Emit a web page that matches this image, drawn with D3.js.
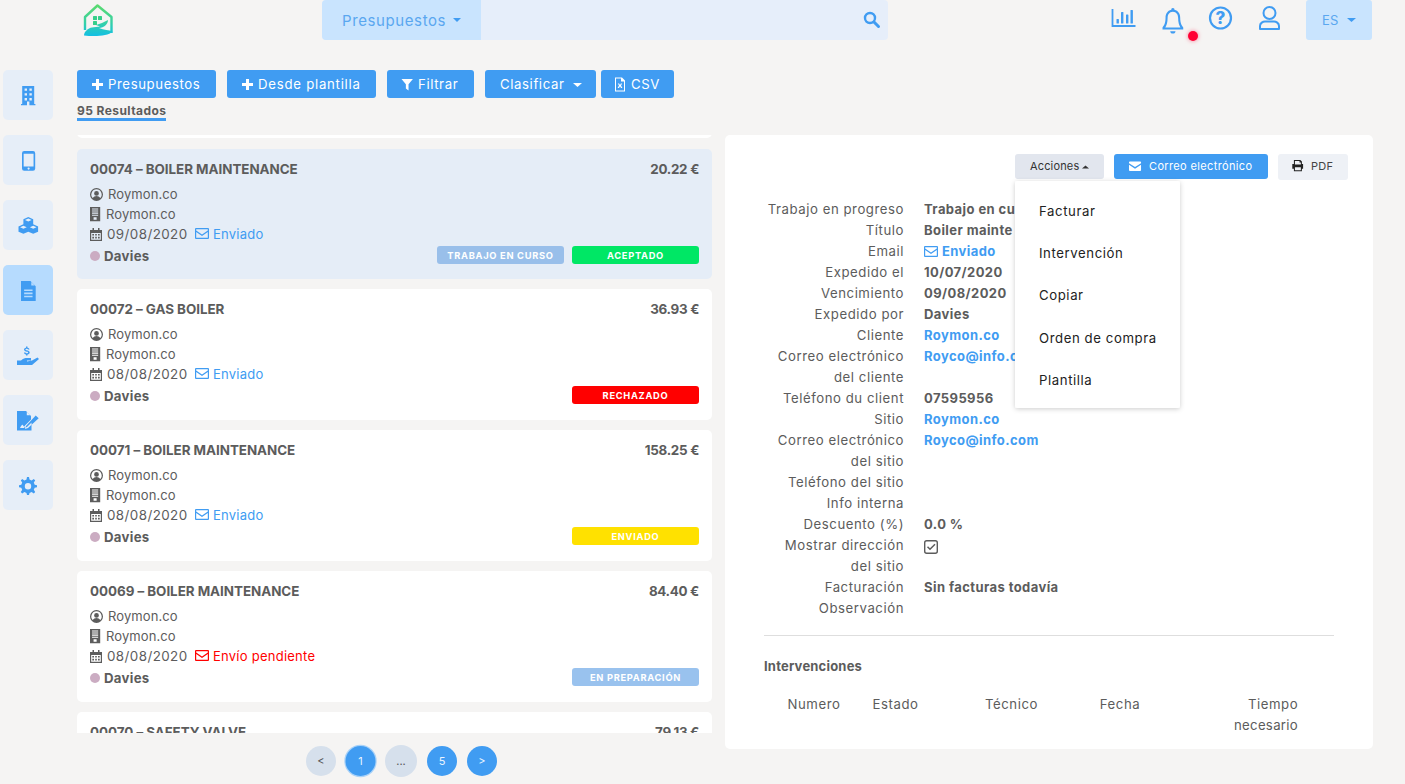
<!DOCTYPE html>
<html><head><meta charset="utf-8">
<script src="https://cdn.jsdelivr.net/npm/d3@7/dist/d3.min.js"></script>
<style>html,body{margin:0;padding:0;background:#f5f4f3;overflow:hidden}svg{display:block;font-family:Inter,"Open Sans",sans-serif}</style>
</head><body><svg id="c" width="1405" height="784"></svg>
<script>
const toolbarLabels=["Presupuestos","Desde plantilla","Filtrar","Clasificar","CSV"];
const toolbarX=[[77,216],[227,376],[387,474],[485,596],[601,674]];
const invoiceTitles=["00074 – BOILER MAINTENANCE","00072 – GAS BOILER","00071 – BOILER MAINTENANCE","00069 – BOILER MAINTENANCE","00070 – SAFETY VALVE"];
const invoiceAmounts=["20.22 €","36.93 €","158.25 €","84.40 €","79.13 €"];
const invoiceDates=["09/08/2020","08/08/2020","08/08/2020","08/08/2020"];
const invoiceMail=["Enviado","Enviado","Enviado","Envío pendiente"];
const invoiceBadges=[["TRABAJO EN CURSO","ACEPTADO"],["RECHAZADO"],["ENVIADO"],["EN PREPARACIÓN"]];
const badgeColors={"TRABAJO EN CURSO":"#99bfea","ACEPTADO":"#00e765","RECHAZADO":"#ff0000","ENVIADO":"#ffe100","EN PREPARACIÓN":"#99c2ee"};
const detailLabels=["Trabajo en progreso","Título","Email","Expedido el","Vencimiento","Expedido por","Cliente","Correo electrónico","del cliente","Teléfono du client","Sitio","Correo electrónico","del sitio","Teléfono del sitio","Info interna","Descuento (%)","Mostrar dirección","del sitio","Facturación","Observación"];
const detailValues=["Trabajo en cu","Boiler mainte","Enviado","10/07/2020","09/08/2020","Davies","Roymon.co","Royco@info.c","","07595956","Roymon.co","Royco@info.com","","","","0.0 %","","","Sin facturas todavía",""];
const detailBlue=[2,6,7,10,11];
const menuItems=["Facturar","Intervención","Copiar","Orden de compra","Plantilla"];
const menuY=[211,253,295,338,380];
const tableHeads=["Numero","Estado","Técnico","Fecha","Tiempo"];
const tableX=[814,895.5,1011.5,1120,1273];
const pageLabels=["<","1","...","5",">"];
const pageX=[321,360.5,401,442,482];
const sideY=[70,135,200,265,330,395,460];

const BLUE="#409cf2",INK="#5c5c5c";
const svg=d3.select("#c");
const defs=svg.append("defs");
defs.append("clipPath").attr("id","listClip").append("rect").attr("x",70).attr("y",135).attr("width",650).attr("height",598);
const grad=defs.append("linearGradient").attr("id","logoG").attr("gradientUnits","userSpaceOnUse").attr("x1",0).attr("y1",4).attr("x2",0).attr("y2",36);
grad.append("stop").attr("offset",0).attr("stop-color","#5ddb6a");
grad.append("stop").attr("offset",.6).attr("stop-color","#35d0a8");
grad.append("stop").attr("offset",1).attr("stop-color","#12bfe4");
const blur=defs.append("filter").attr("id","sh").attr("x","-10%").attr("y","-10%").attr("width","120%").attr("height","120%");
blur.append("feDropShadow").attr("dx",0).attr("dy",1).attr("stdDeviation",2.5).attr("flood-color","#000").attr("flood-opacity",.2);

function rect(p,x,y,w,h,f,r=3){return p.append("rect").attr("x",x).attr("y",y).attr("width",w).attr("height",h).attr("fill",f).attr("rx",r)}
function text(p,x,y,s,o={}){return p.append("text").attr("x",x).attr("y",y).text(s).attr("font-size",o.size||13.5).attr("font-weight",o.w||400).attr("fill",o.f||INK).attr("text-anchor",o.a||"start").attr("letter-spacing",o.ls==null?.3:o.ls)}
function icon(p,x,y,d,f,s=1){return p.append("path").attr("transform",`translate(${x},${y}) scale(${s})`).attr("d",d).attr("fill",f).attr("fill-rule","evenodd")}
const ICON={
 building:"M1 0H11V15H12V16H0V15H1ZM3 2V4H5V2ZM7 2V4H9V2ZM3 6V8H5V6ZM7 6V8H9V6ZM3 10V12H5V10ZM7 10V12H9V10ZM5 13V16H7V13Z",
 phone:"M2 0H10A2 2 0 0 1 12 2V16A2 2 0 0 1 10 18H2A2 2 0 0 1 0 16V2A2 2 0 0 1 2 0ZM1.5 2.5V14H10.5V2.5ZM6 15A1 1 0 1 0 6 17A1 1 0 1 0 6 15Z",
 doc:"M0 0H9L14 5V19H0ZM3 8V9.5H11V8ZM3 11V12.5H11V11ZM3 14V15.5H11V14ZM9.8 1V4.2H13Z",
 gear:"M8 0L10 0L10.5 2.5L12.6 3.4L14.8 2L16.2 3.4L14.8 5.6L15.7 7.7L18 8.2V10.2L15.7 10.7L14.8 12.8L16.2 15L14.8 16.4L12.6 15L10.5 15.9L10 18H8L7.5 15.9L5.4 15L3.2 16.4L1.8 15L3.2 12.8L2.3 10.7L0 10.2V8.2L2.3 7.7L3.2 5.6L1.8 3.4L3.2 2L5.4 3.4L7.5 2.5ZM9 6A3.2 3.2 0 1 0 9 12.4A3.2 3.2 0 1 0 9 6Z",
 envelope:"M1 0H13A1 1 0 0 1 14 1V2L7 6.5L0 2V1A1 1 0 0 1 1 0ZM0 3.8L7 8.3L14 3.8V10A1 1 0 0 1 13 11H1A1 1 0 0 1 0 10Z",
 envO:"M1 0H13A1 1 0 0 1 14 1V10A1 1 0 0 1 13 11H1A1 1 0 0 1 0 10V1A1 1 0 0 1 1 0ZM1.2 1.2V2.6L7 6.6L12.8 2.6V1.2ZM1.2 4V9.8H12.8V4L7 8Z",
 user:"M6.5 0A6.5 6.5 0 1 1 6.5 13A6.5 6.5 0 1 1 6.5 0ZM6.5 1.3A5.2 5.2 0 0 0 2.7 10A4.5 4.5 0 0 1 10.3 10A5.2 5.2 0 0 0 6.5 1.3ZM6.5 3A2.4 2.4 0 1 1 6.5 7.8A2.4 2.4 0 1 1 6.5 3Z",
 cal:"M0 2H2.5V0H4V2H8V0H9.5V2H12V13H0ZM1.2 5V11.8H10.8V5ZM2.3 6H4V7.6H2.3ZM5.2 6H6.8V7.6H5.2ZM8 6H9.7V7.6H8ZM2.3 8.8H4V10.4H2.3ZM5.2 8.8H6.8V10.4H5.2ZM8 8.8H9.7V10.4H8Z",
 bld2:"M0 0H10V14H0ZM2 1.5V2.5H8V1.5ZM2 3.5V4.5H8V3.5ZM2 5.5V6.5H8V5.5ZM2 7.5V8.5H8V7.5ZM3.5 10V12.5H6.5V10Z",
 plus:"M4 0H7V4H11V7H7V11H4V7H0V4H4Z",
 funnel:"M0 0H12L7.4 5.5V12L4.6 10V5.5Z",
 csv:"M1 0H8L11 3V14H1ZM2 1V13H10V4H7V1ZM3.8 6L5 8L3.6 10.5H5L6 8.8L7 10.5H8.4L7 8L8.2 6H6.9L6 7.4L5.1 6Z",
 bell:"M8.5 0A1.3 1.3 0 0 1 9.8 1.5C13 2.2 14.5 5 14.5 8C14.5 13 16 14.5 17 16V17.6H0V16C1 14.5 2.5 13 2.5 8C2.5 5 4 2.2 7.2 1.5A1.3 1.3 0 0 1 8.5 0ZM8.5 3C5.5 3 4.2 5.5 4.2 8C4.2 12 3.3 14.3 2.3 16H14.7C13.7 14.3 12.8 12 12.8 8C12.8 5.5 11.5 3 8.5 3ZM6.3 19H10.7C10.4 20.5 9.5 21 8.5 21S6.6 20.5 6.3 19Z",
 print:"M3 0H11L13 2V5H14.5V11H13V14H3V11H1V5H3ZM4.3 1.3V5.5H11.7V3H10V1.3ZM4.3 9V12.7H11.7V9Z",
 hand:"M9 0H10.5V1.2C12 1.4 12.5 2.2 12.5 3H11C11 2.5 10.6 2.3 9.8 2.3C9 2.3 8.5 2.6 8.5 3.1C8.5 4.4 12.7 3.6 12.7 6.1C12.7 7 12 7.8 10.5 8V9H9V8C7.7 7.8 7 7 7 6H8.5C8.5 6.5 9 6.8 9.8 6.8C10.6 6.8 11.1 6.5 11.1 6.1C11.1 4.8 7 5.6 7 3.1C7 2.2 7.6 1.4 9 1.2ZM0 14H4C6 12 8 11.5 10 11.5H14V14H10V15L15 14L20.5 11L22 12.5L15 18.5H0Z",
 sign:"M0 0H9L14 5V8.5L8 14.5L7 17L10 16L14.5 11.5V19.5H0ZM9.8 1V4.2H13ZM18.7 4.5L21.7 7.2L11 17L8 18L9 15Z M3 17C5 13 6 13 6.5 15.5C7.2 14.8 7.5 15 8 16V17Z",
 cubes:"M10 0L15 2.2V7.4L20 9.6V15L15 17L10 15L5 17L0 15V9.6L5 7.4V2.2ZM6.6 3L10 4.5L13.4 3L10 1.5ZM1.6 10.4L5 11.9L8.4 10.4L5 8.9ZM11.6 10.4L15 11.9L18.4 10.4L15 8.9Z"
};

// Logo
const logo=svg.append("g");
logo.append("path").attr("d","M85 30V17L97.5 5.5L111.5 17V33").attr("fill","none").attr("stroke","url(#logoG)").attr("stroke-width",2.4).attr("stroke-linejoin","round");
[[93,16],[98,16],[93,21],[98,21]].forEach((w,i)=>{if(i<3)rect(logo,w[0],w[1],4,4,"#35cf8a",.5)});
logo.append("path").attr("d","M96 25C100 24 104 22 108 20C108 24 104 28 99 28C104 30 109 30 112.5 31.5C108 36.5 94 36.5 84 35.5C84 32 88 28 92 27.5C94 27 98 27 100 26.5Z").attr("fill","url(#logoG)");

// Top bar
rect(svg,322,0,566,40,"#e6eefa",4);
rect(svg,322,0,159,40,"#c9e4fe",4);
rect(svg,477,0,4,40,"#c9e4fe",0);
text(svg,342,26,"Presupuestos",{size:15,f:"#5aa7f0",ls:.6});
svg.append("path").attr("d","M453 18h8l-4 4z").attr("fill",BLUE);
svg.append("circle").attr("cx",870).attr("cy",18).attr("r",5).attr("fill","none").attr("stroke",BLUE).attr("stroke-width",2.4);
svg.append("line").attr("x1",874).attr("y1",22).attr("x2",878.5).attr("y2",26.5).attr("stroke",BLUE).attr("stroke-width",3).attr("stroke-linecap","round");
svg.append("path").attr("d","M1112.5 9V26H1135.5").attr("fill","none").attr("stroke",BLUE).attr("stroke-width",1.8);
[[1116.5,19],[1121,12],[1126,14.5],[1130.5,10]].forEach(b=>rect(svg,b[0],b[1],2.4,23.5-b[1],BLUE,.5));
icon(svg,1162.5,8,ICON.bell,BLUE,1.22);
svg.append("circle").attr("cx",1193).attr("cy",36).attr("r",5).attr("fill","#ff0033").attr("filter","drop-shadow(0 0 2px rgba(255,0,50,.5))");
svg.append("circle").attr("cx",1220.5).attr("cy",18).attr("r",10.5).attr("fill","none").attr("stroke",BLUE).attr("stroke-width",2.2);
text(svg,1220.5,24,"?",{size:17,w:800,f:BLUE,a:"middle",ls:0});
svg.append("circle").attr("cx",1269.5).attr("cy",13).attr("r",6).attr("fill","none").attr("stroke",BLUE).attr("stroke-width",2);
svg.append("path").attr("d","M1260 29V26C1260 23 1263 21.5 1265 21.5H1274C1276 21.5 1279 23 1279 26V29Z").attr("fill","none").attr("stroke",BLUE).attr("stroke-width",2).attr("stroke-linejoin","round");
rect(svg,1306,0,66,40,"#c9e4fe",3);
text(svg,1322,25,"ES",{size:13,f:"#5aa7f0"});
svg.append("path").attr("d","M1347 18h9l-4.5 4z").attr("fill",BLUE);

// Sidebar
const sideIcons=[[ICON.building,21,86,1.2],[ICON.phone,22,151,1.1],[ICON.cubes,18.5,217,.98],[ICON.doc,21,281,1.05],[ICON.hand,17,346.5,1],[ICON.sign,17,411,1],[ICON.gear,19,477,1]];
svg.selectAll(".side").data(sideY).join("rect").attr("x",3).attr("y",d=>d).attr("width",50).attr("height",50).attr("rx",5)
 .attr("fill",(d,i)=>i===3?"#b6dbfe":"#e6eef8");
sideIcons.forEach(s=>icon(svg,s[1],s[2],s[0],BLUE,s[3]));

// Toolbar
toolbarLabels.forEach((l,i)=>{const [a,b]=toolbarX[i];
 rect(svg,a,70,b-a,28,BLUE,3);
 let tx=a+15;
 if(i<2){icon(svg,a+15,79,ICON.plus,"#fff",1);tx=a+31}
 if(i===2){icon(svg,a+14.5,79,ICON.funnel,"#fff",.95);tx=a+31}
 if(i===4){icon(svg,a+13,77.5,ICON.csv,"#fff",1);tx=a+30}
 text(svg,tx,89,l,{size:13.2,f:"#fff",ls:i===1?.75:.6});
 if(i===3)svg.append("path").attr("d",`M${a+88} 83h9l-4.5 4z`).attr("fill","#fff");
});
text(svg,77,115,"95 Resultados",{size:12,w:700,ls:.42});
rect(svg,77,118,89,3,BLUE,0);

// List
const list=svg.append("g").attr("clip-path","url(#listClip)");
const yCard=d3.scaleLinear().domain([0,4]).range([149,712]);
rect(list,77,120,635,18,"#fff",5);
invoiceTitles.forEach((t,i)=>{
 const y=Math.floor(yCard(i)),g=list.append("g");
 rect(g,77,y,635,i===0?130:131,i===0?"#e5edf7":"#fff",5);
 text(g,90,y+25,t,{size:13.4,w:700,ls:-.03});
 text(g,699,y+25,invoiceAmounts[i],{size:13.4,w:700,a:"end",ls:-.3});
 if(i>=invoiceDates.length)return;
 icon(g,90,y+39,ICON.user,INK,1);
 text(g,108,y+50,"Roymon.co",{size:13,ls:.1});
 icon(g,90,y+58,ICON.bld2,INK,1.02);
 text(g,106,y+70,"Roymon.co",{size:13,ls:.1});
 icon(g,90,y+79,ICON.cal,INK,1);
 text(g,107,y+90,invoiceDates[i],{size:13.4,ls:.42});
 const red=invoiceMail[i]!=="Enviado",col=red?"#ff0000":BLUE;
 icon(g,195,y+79,ICON.envO,col,1);
 text(g,213,y+90,invoiceMail[i],{size:13,f:col,ls:.25});
 g.append("circle").attr("cx",95).attr("cy",y+107).attr("r",5).attr("fill","#cbacc2");
 text(g,104,y+112,"Davies",{size:13.2,w:700,ls:.3});
 invoiceBadges[i].slice().reverse().forEach((b,k)=>{
  const x=572-135*k;
  rect(g,x,y+97,127,18,badgeColors[b],3);
  text(g,x+63.5,y+109.6,b,{size:9.3,w:700,f:"#fff",a:"middle",ls:.7});
 });
});

// Right panel
rect(svg,725,135,648,614,"#fff",5);
rect(svg,1015,154,89,25,"#e2e6ee",3);
text(svg,1030,170,"Acciones",{size:11,f:"#333",ls:.15});
svg.append("path").attr("d","M1082 168.5h7l-3.5-3z").attr("fill","#333");
rect(svg,1114,154,154,25,BLUE,3);
icon(svg,1129,161.5,ICON.envelope,"#fff",.86);
text(svg,1149,170,"Correo electrónico",{size:11,f:"#fff",ls:.36});
rect(svg,1278,154,70,26,"#eef1f6",3);
icon(svg,1291.5,160,ICON.print,"#222",.8);
text(svg,1311,170,"PDF",{size:11,f:"#444",ls:.3});

const yRow=d3.scaleLinear().domain([0,19]).range([214,613]);
detailLabels.forEach((l,i)=>{
 text(svg,904,yRow(i),l,{size:13.2,a:"end",ls:.55});
 const v=detailValues[i];
 if(v){const blue=detailBlue.includes(i);
  const ex=i===2?18:0;
  text(svg,924+ex,yRow(i),v,{size:13,w:700,f:blue?BLUE:INK,ls:.42});
 }
});
icon(svg,924,yRow(2)-10,ICON.envO,BLUE,1);
rect(svg,924.7,yRow(16)-9.3,12.6,12.6,"none",2).attr("stroke",INK).attr("stroke-width",1.4);
svg.append("path").attr("d",`M927.5 ${yRow(16)-3.2}l2.5 2.5l5-5`).attr("fill","none").attr("stroke",INK).attr("stroke-width",1.5);

svg.append("line").attr("x1",764).attr("x2",1334).attr("y1",635.5).attr("y2",635.5).attr("stroke","#dedede");
text(svg,764,671,"Intervenciones",{size:13,w:700,ls:.2});
tableHeads.forEach((h,i)=>text(svg,tableX[i],709,h,{size:13.2,a:"middle",ls:.55}));
text(svg,1266,730,"necesario",{size:13.2,a:"middle",ls:.3});

// Dropdown
rect(svg,1015,181,165,227,"#fff",2).attr("filter","url(#sh)");
menuItems.forEach((m,i)=>text(svg,1039,menuY[i]+5,m,{size:13.2,f:"#222",ls:.58}));

// Pagination
svg.append("circle").attr("cx",pageX[1]).attr("cy",761).attr("r",16.2).attr("fill","#a9d2f8");
pageLabels.forEach((l,i)=>{
 const active=i===1||i===3||i===4;
 svg.append("circle").attr("cx",pageX[i]).attr("cy",761).attr("r",i===2?16:15).attr("fill",active?BLUE:"#d6e0ec");
 text(svg,pageX[i],764.5,l,{size:11,f:active?"#eaf4ff":"#555",a:"middle",ls:0});
});
</script></body></html>
